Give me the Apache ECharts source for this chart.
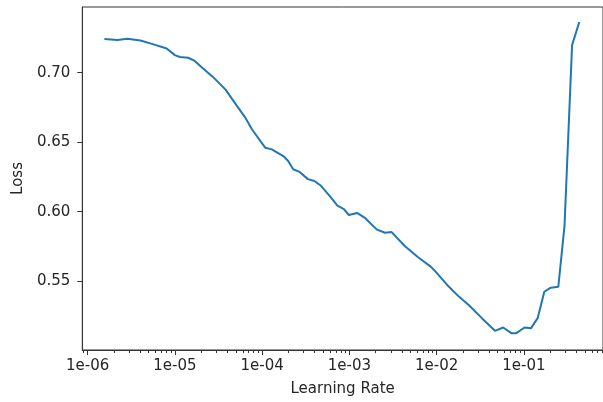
<!DOCTYPE html>
<html>
<head>
<meta charset="utf-8">
<script src="https://cdn.jsdelivr.net/npm/echarts@6/dist/echarts.min.js"></script>
<style>html,body{margin:0;padding:0;background:#fff}#c{width:603px;height:402px}</style>
</head>
<body>
<div id="c"></div>
<script>
const learningRates = [1.556e-6, 2.20e-6, 2.85e-6, 4.04e-6, 5.70e-6, 8.05e-6, 1.0e-5, 1.14e-5, 1.42e-5, 1.69e-5,
  2.09e-5, 2.71e-5, 3.37e-5, 3.83e-5, 5.19e-5, 6.45e-5, 7.67e-5, 1.084e-4, 1.29e-4, 1.75e-4,
  1.99e-4, 2.27e-4, 2.69e-4, 3.35e-4, 3.97e-4, 4.73e-4, 6.14e-4, 7.30e-4, 8.66e-4, 9.86e-4,
  1.227e-3, 1.52e-3, 2.07e-3, 2.56e-3, 3.05e-3, 4.31e-3, 6.08e-3, 8.62e-3, 9.40e-3, 1.33e-2,
  1.80e-2, 2.33e-2, 3.30e-2, 4.67e-2, 5.79e-2, 7.19e-2, 8.19e-2, 0.1018, 0.1208, 0.1439,
  0.1714, 0.2033, 0.2483, 0.2924, 0.357, 0.4317];
const losses = [0.7241, 0.7234, 0.7243, 0.7231, 0.7203, 0.7174, 0.7126, 0.7112, 0.7107, 0.7084,
  0.7031, 0.6971, 0.6912, 0.6876, 0.6757, 0.6674, 0.6591, 0.6460, 0.6448, 0.6400,
  0.6364, 0.6305, 0.6286, 0.6234, 0.6221, 0.6186, 0.6103, 0.6043, 0.6019, 0.5976,
  0.5991, 0.5953, 0.5871, 0.5848, 0.5853, 0.5753, 0.5674, 0.5603, 0.5579, 0.5471,
  0.5389, 0.5329, 0.5234, 0.5143, 0.5167, 0.5126, 0.5126, 0.5167, 0.5162, 0.5234,
  0.5424, 0.5453, 0.5460, 0.5900, 0.7198, 0.7364];
const xMajorTicks = [1e-6, 1e-5, 1e-4, 1e-3, 1e-2, 1e-1];
const xTickLabels = ['1e-06', '1e-05', '1e-04', '1e-03', '1e-02', '1e-01'];
const yTicks = [0.55, 0.60, 0.65, 0.70];
const xMin = Math.pow(10, -6.061), xMax = Math.pow(10, -0.093);
const yMin = 0.5005, yMax = 0.7472;

const xMinorTicks = [];
for (let e = -7; e <= 0; e++) {
  for (let m = 2; m <= 9; m++) {
    const v = m * Math.pow(10, e);
    if (v >= xMin && v <= xMax) xMinorTicks.push(v);
  }
}
const data = learningRates.map((x, i) => [x, losses[i]]);
const font = 'DejaVu Sans';
const txt = '#262626';
const chart = echarts.init(document.getElementById('c'), null, {renderer: 'canvas'});
chart.setOption({
  animation: false,
  grid: {left: 82.3, right: -8, top: 7, bottom: 49.3, show: true, borderColor: '#333', borderWidth: 1, backgroundColor: 'transparent'},
  xAxis: [{
    type: 'log', logBase: 10, min: xMin, max: xMax,
    name: 'Learning Rate', nameLocation: 'middle', nameGap: 32,
    nameTextStyle: {fontFamily: font, fontSize: 15, color: txt},
    axisLine: {show: true, lineStyle: {color: '#333', width: 1}},
    axisTick: {show: true, length: 5, lineStyle: {color: '#333', width: 1}, customValues: xMajorTicks},
    axisLabel: {show: true, margin: 9, fontFamily: font, fontSize: 15, color: txt, customValues: xMajorTicks,
      formatter: v => { const i = xMajorTicks.findIndex(t => Math.abs(Math.log10(t) - Math.log10(v)) < 1e-6); return i >= 0 ? xTickLabels[i] : ''; }},
    splitLine: {show: false}, minorTick: {show: false}
  }, {
    type: 'log', logBase: 10, min: xMin, max: xMax, position: 'bottom',
    axisLine: {show: false},
    axisTick: {show: true, length: 3, lineStyle: {color: '#333', width: 1}, customValues: xMinorTicks},
    axisLabel: {show: false},
    splitLine: {show: false}
  }],
  yAxis: {
    type: 'value', min: yMin, max: yMax, scale: true,
    name: 'Loss', nameLocation: 'middle', nameGap: 55,
    nameTextStyle: {fontFamily: font, fontSize: 15, color: txt},
    axisLine: {show: true, lineStyle: {color: '#333', width: 1}},
    axisTick: {show: true, length: 5, lineStyle: {color: '#333', width: 1}, customValues: yTicks},
    axisLabel: {show: true, margin: 12, fontFamily: font, fontSize: 15, color: txt, customValues: yTicks,
      formatter: v => v.toFixed(2)},
    splitLine: {show: false}
  },
  series: [{
    type: 'line', xAxisIndex: 0, data: data, showSymbol: false, smooth: false,
    lineStyle: {color: '#1f77b4', width: 2}, itemStyle: {color: '#1f77b4'}
  }]
});
</script>
</body>
</html>
